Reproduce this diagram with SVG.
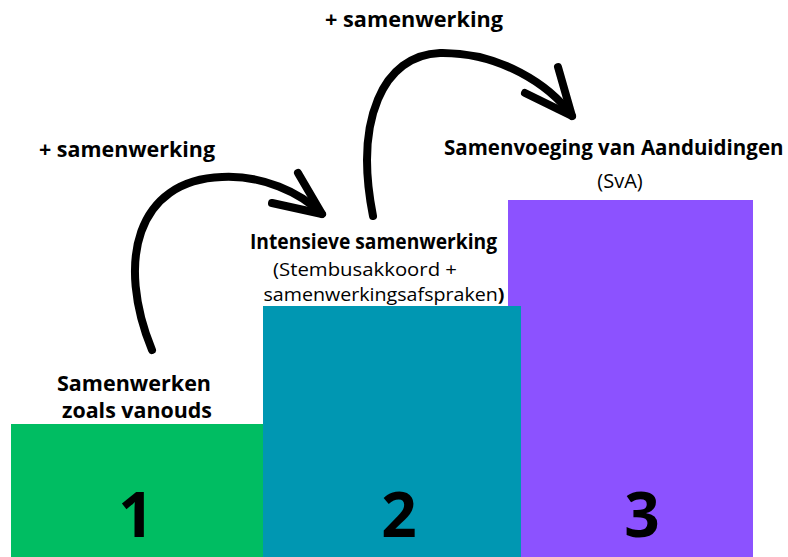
<svg xmlns="http://www.w3.org/2000/svg" width="788" height="557" viewBox="0 0 788 557">
<style>
.t{font-family:"Open Sans","Noto Sans",sans-serif;fill:#000;text-anchor:middle}
.b{font-weight:700;font-size:21.5px}
.r{font-weight:400;font-size:20px}
.s{font-weight:400;font-size:18px}
.n{font-weight:700;font-size:62px}
.arr{fill:none;stroke:#000;stroke-width:8;stroke-linecap:round;stroke-linejoin:round}
</style>
<rect width="788" height="557" fill="#fff"/>
<g id="step3">
<rect x="508" y="200" width="245" height="357" fill="#8C52FF"/>
<text class="t n" x="642" y="537">3</text>
<text class="t b" x="444" y="155" style="text-anchor:start;font-size:20.5px">Samenvoeging van Aanduidingen</text>
<text class="t r" x="620" y="188">(SvA)</text>
</g>
<g id="step1">
<rect x="11" y="424" width="253" height="133" fill="#00BD62"/>
<text class="t n" x="136" y="537">1</text>
<text class="t b" x="134" y="391" textLength="154" lengthAdjust="spacingAndGlyphs">Samenwerken</text>
<text class="t b" x="137" y="418" textLength="150" lengthAdjust="spacingAndGlyphs">zoals vanouds</text>
</g>
<g id="step2">
<rect x="263" y="306" width="258" height="251" fill="#0097B2"/>
<text class="t n" x="399" y="537">2</text>
<text class="t b" x="373.5" y="249" textLength="247" lengthAdjust="spacingAndGlyphs">Intensieve samenwerking</text>
<text class="t s" x="365" y="276" textLength="184" lengthAdjust="spacingAndGlyphs">(Stembusakkoord +</text>
<text class="t s" x="384" y="301" textLength="241" lengthAdjust="spacingAndGlyphs">samenwerkingsafspraken<tspan font-weight="700">)</tspan></text>
</g>
<g id="connectors">
<path class="arr" d="M152,350 C116,262 136,180 222,177 C262,175 300,192 322,214"/>
<path class="arr" d="M298,173 L322,214 L272,203"/>
<text class="t b" x="127" y="157" textLength="176" lengthAdjust="spacingAndGlyphs">+ samenwerking</text>
<path class="arr" d="M373,216 C354,120 383,55 440,53 C500,52 550,85 572,116"/>
<path class="arr" d="M558,67 L572,116 L525,93"/>
<text class="t b" x="414" y="27" textLength="178" lengthAdjust="spacingAndGlyphs">+ samenwerking</text>
</g>
</svg>
